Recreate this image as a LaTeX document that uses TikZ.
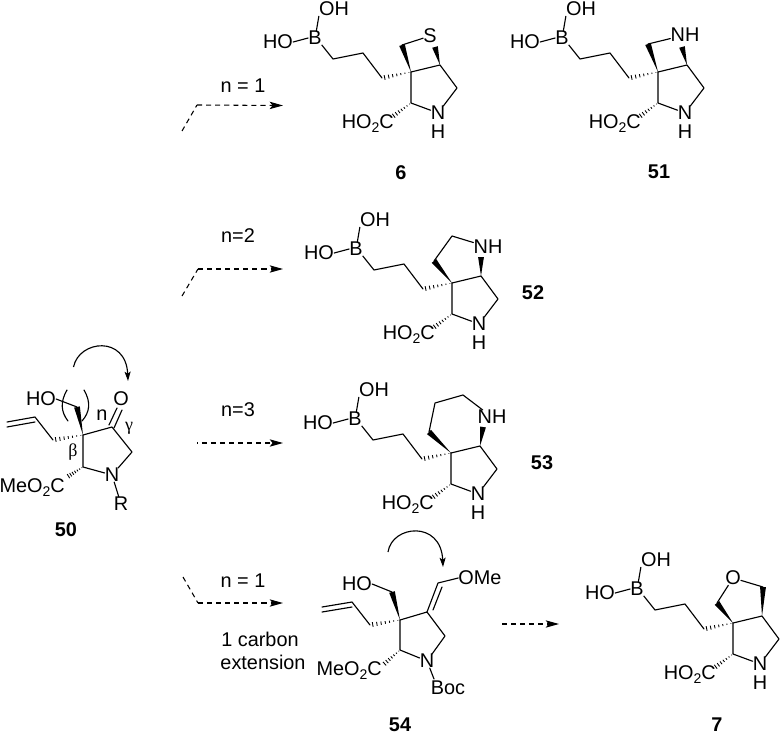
\documentclass[tikz,border=0pt]{standalone}
\usepackage{fontspec}
\setmainfont{Liberation Sans}
\newfontfamily\grk{Liberation Serif}
\usetikzlibrary{arrows.meta,calc}
\newcommand{\fs}{\fontsize{14.9}{17}\selectfont}
\newcommand{\sub}[1]{\raisebox{-0.4ex}{\fontsize{10.5}{12}\selectfont #1}}
\tikzset{
  x=0.75pt,y=-0.75pt,
  atom/.style={inner sep=0pt,font=\fs,text=black},
  cpd/.style={inner sep=0pt,font=\fs\bfseries,text=black},
  note/.style={inner sep=0pt,font=\fs,text=black},
  greek/.style={inner sep=0pt,font=\fontsize{13.5}{15}\selectfont\grk,text=black},
  bond/.style={line width=0.85pt,draw=black,line cap=round,line join=round},
  dbond/.style={dash pattern=on 3.8pt off 3pt,line width=0.8pt,draw=black},
  darrow/.style={dbond,-{Stealth[length=10pt,width=5.5pt,inset=2.2pt]}},
  curly/.style={line width=0.85pt,draw=black,-{Stealth[length=7pt,width=4.5pt,inset=1.5pt]}},
}
% solid wedge: narrow at #1, wide at #2
\newcommand{\wedgeb}[2]{%
  \fill[black] let \p1=($(#2)-(#1)$),\n1={atan2(\y1,\x1)+90} in
    (#1) -- ($(#2)+(\n1:2.2pt)$) -- ($(#2)-(\n1:2.2pt)$) -- cycle;}
% hashed wedge: narrow at #1, wide at #2
\newcommand{\hashb}[2]{%
  \foreach \t/\w in {0.07/0.25,0.21/0.5,0.35/0.75,0.49/1.0,0.63/1.25,0.77/1.5,0.91/1.8}{%
    \draw[line width=0.65pt,black] let \p1=($(#2)-(#1)$),\n1={atan2(\y1,\x1)+90} in
      ($($(#1)!\t!(#2)$)+(\n1:\w pt)$) -- ($($(#1)!\t!(#2)$)-(\n1:\w pt)$);}}
% common boronic-acid/pyrrolidine fragment; #1 prefix, quaternary carbon at (#2,#3)
\newcommand{\frag}[3]{%
  \begin{scope}[shift={(#2,#3)}]
    \coordinate (#1q) at (0,0);
    \node[atom] (#1ho) at (-133,-30) {HO};
    \node[atom] (#1b)  at (-96,-34) {B};
    \node[atom] (#1oh) at (-77,-63) {OH};
    \coordinate (#1c1) at (-78,-13);
    \coordinate (#1c2) at (-48,-19);
    \coordinate (#1c3) at (-29,6);
    \coordinate (#1a) at (0,31);
    \node[atom] (#1n) at (27,41) {N};
    \node[atom] (#1h) at (27,60) {H};
    \coordinate (#1c5) at (46,16);
    \coordinate (#1cb) at (29,-7);
    \node[atom,anchor=base east] (#1co) at (-17,56) {HO\sub{2}C};
    \coordinate (#1ce) at (-19,45);
    \draw[bond] (#1ho.east) -- (#1b.west);
    \draw[bond] ([xshift=1pt]#1b.north) -- (#1oh.south west);
    \draw[bond] (#1b.south east) -- (#1c1) -- (#1c2) -- (#1c3);
    \draw[bond] (#1q) -- (#1a) -- (#1n);
    \draw[bond] (#1n) -- (#1c5) -- (#1cb) -- (#1q);
    \hashb{#1q}{#1c3}
    \hashb{#1a}{#1ce}
  \end{scope}}
\begin{document}
\begin{tikzpicture}
\useasboundingbox (0,0) rectangle (780,735);
% compound 6
\frag{f}{411}{72}
\node[atom] (fs) at (430,36) {S};
\coordinate (fm) at (402,45);
\coordinate (fw) at (435,47);
\wedgeb{fq}{fm}
\wedgeb{fcb}{fw}
\draw[bond] (fm) -- (fs);
\node[cpd] (c6) at (401,173) {6};
% compound 51
\frag{g}{658}{72}
\node[atom] (gnh) at (685,35) {NH};
\coordinate (gm) at (648,44);
\coordinate (gw) at (682,47);
\wedgeb{gq}{gm}
\wedgeb{gcb}{gw}
\draw[bond] (gm) -- (gnh);
\node[cpd] (c51) at (659,172) {51};
% compound 52
\frag{h}{452}{283}
\node[atom] (hnh) at (488,247) {NH};
\coordinate (hm) at (434,261);
\coordinate (hp) at (452,236);
\coordinate (hw) at (481,257);
\wedgeb{hq}{hm}
\wedgeb{hcb}{hw}
\draw[bond] (hm) -- (hp) -- (hnh);
\node[cpd] (c52) at (533,293) {52};
% compound 53
\frag{i}{451}{453}
\node[atom] (inh) at (492,417) {NH};
\coordinate (im) at (429,432);
\coordinate (ip) at (435,403);
\coordinate (ir) at (463,395);
\coordinate (iw) at (483,427);
\wedgeb{iq}{im}
\wedgeb{icb}{iw}
\draw[bond] (im) -- (ip) -- (ir) -- (inh);
\node[cpd] (c53) at (542,463) {53};
% compound 7
\frag{j}{733}{623}
\node[atom] (jo) at (733,578) {O};
\coordinate (jm) at (717,603);
\coordinate (jr) at (763,587);
\wedgeb{jq}{jm}
\wedgeb{jcb}{jr}
\draw[bond] (jm) -- (jo) -- (jr);
\node[cpd] (c7) at (717,724.5) {7};
% compound 50
\coordinate (q) at (83,435);
\node[atom] (aho) at (41,399) {HO};
\coordinate (am) at (77,407);
\coordinate (al) at (53,440);
\coordinate (al2) at (35,417);
\coordinate (co) at (112,427);
\node[atom] (ao) at (121,399) {O};
\coordinate (ar) at (132,452);
\node[atom] (an) at (112,475) {N};
\node[atom] (ar2) at (121,504) {R};
\coordinate (aca) at (83,467);
\coordinate (ace) at (67,477);
\node[atom,anchor=base east] (ame) at (65,492) {MeO\sub{2}C};
\wedgeb{q}{am}
\draw[bond] (aho.east) -- (am);
\hashb{q}{al}
\draw[bond] (al) -- (al2) -- (7,422);
\draw[bond] (35,422) -- (7,427);
\draw[bond] (q) -- (co) -- (ar) -- (an);
\draw[bond] (q) -- (aca) -- (an);
\draw[bond] (an) -- (ar2);
\draw[bond] (109,425) -- (117,408);
\draw[bond] (114,428) -- (122,410);
\hashb{aca}{ace}
\draw[bond] (67,390) .. controls (60,402) and (61,412) .. (68,421);
\draw[bond] (84,390) .. controls (91,402) and (90,412) .. (82,421);
\node[note] (an1) at (102,415) {n};
\node[greek] (agam) at (129,428) {γ};
\node[greek] (abet) at (73,452) {β};
\draw[curly] (73.5,367) .. controls (79,340) and (126,335) .. (128,381);
\node[cpd] (c50) at (66,530) {50};
% compound 54
\coordinate (q5) at (400,620);
\node[atom] (bho) at (357,584) {HO};
\coordinate (bm) at (392,592);
\coordinate (bl) at (370,625);
\coordinate (bl2) at (352,602);
\coordinate (bc) at (427,612);
\coordinate (bv) at (438,583);
\node[atom] (bome) at (480,578) {OMe};
\coordinate (br) at (445,636);
\node[atom] (bn) at (427,661) {N};
\node[atom] (bboc) at (448,688) {Boc};
\coordinate (bbt) at (434,679);
\coordinate (bca) at (400,650);
\coordinate (bce) at (383,665);
\node[atom,anchor=base east] (bme) at (382,675) {MeO\sub{2}C};
\wedgeb{q5}{bm}
\draw[bond] (bho.east) -- (bm);
\hashb{q5}{bl}
\draw[bond] (bl) -- (bl2) -- (322,607);
\draw[bond] (352,607) -- (322,612);
\draw[bond] (q5) -- (bc) -- (br) -- (bn);
\draw[bond] (q5) -- (bca) -- (bn);
\draw[bond] (bn) -- (bbt);
\draw[bond] (bc) -- (bv) -- (bome.west);
\draw[bond] (433,610) -- (442,587);
\hashb{bca}{bce}
\draw[curly] (388,552) .. controls (392,525) and (441,520) .. (443,567);
\node[cpd] (c54) at (400,724.5) {54};
% arrows
\coordinate (a1s) at (182,131); \coordinate (a1c) at (197,105); \coordinate (a1e) at (283,105.5);
\draw[dbond] (a1s) -- (a1c);
\draw[darrow] (a1c) -- (a1e);
\node[note] (t1) at (243,86) {n = 1};
\coordinate (a2s) at (182,296); \coordinate (a2c) at (198,269); \coordinate (a2e) at (283,269);
\draw[dbond] (a2s) -- (a2c);
\draw[darrow] (a2c) -- (a2e);
\node[note] (t2) at (238,236) {n=2};
\node[note] (t3) at (238,410) {n=3};
\coordinate (a3s) at (197,443); \coordinate (a3e) at (283,443);
\draw[darrow,dash phase=3.2pt] (a3s) -- (a3e);
\coordinate (a4s) at (183,577); \coordinate (a4c) at (198,603); \coordinate (a4e) at (283,603);
\draw[dbond] (a4s) -- (a4c);
\draw[darrow] (a4c) -- (a4e);
\node[note] (t4) at (243,581) {n = 1};
\node[note] (t5) at (260,639) {1 carbon};
\node[note] (t6) at (263,662) {extension};
\coordinate (a5s) at (502,624); \coordinate (a5e) at (559,624);
\draw[darrow] (a5s) -- (a5e);
\end{tikzpicture}
\end{document}
